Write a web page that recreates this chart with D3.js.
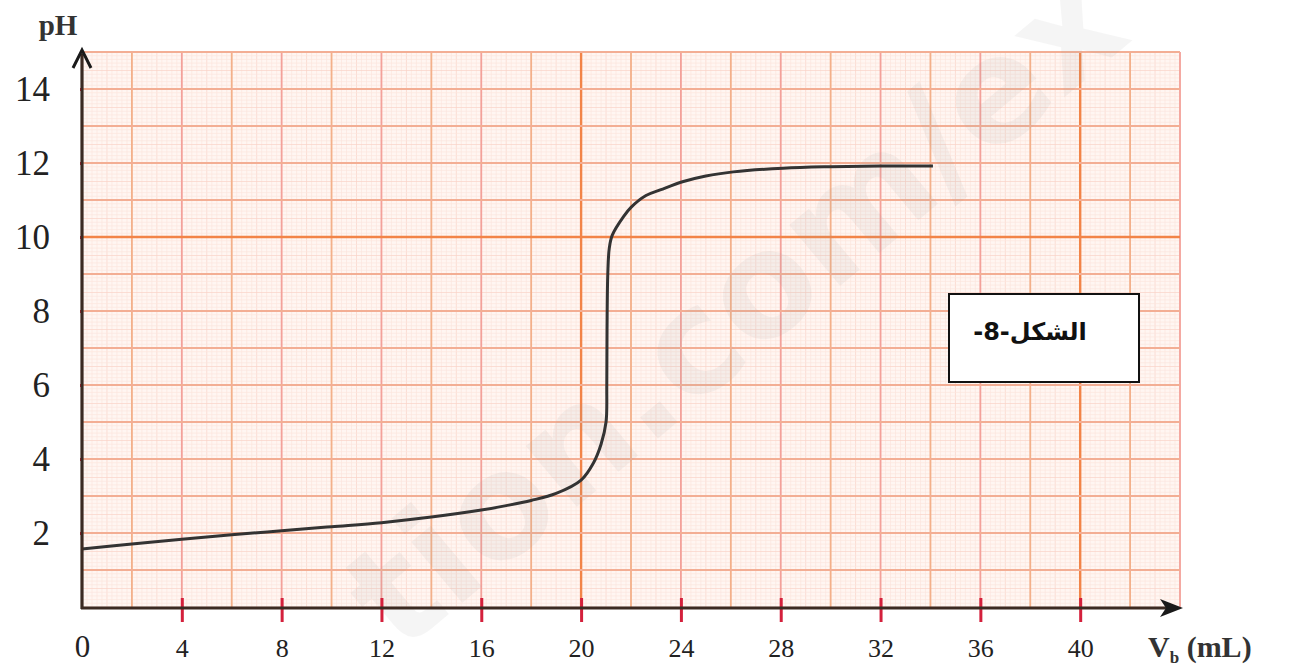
<!DOCTYPE html>
<html>
<head>
<meta charset="utf-8">
<script src="https://cdn.jsdelivr.net/npm/d3@7"></script>
<style>
  body { margin: 0; background: #fff; }
  svg { display: block; }
</style>
</head>
<body>
<div id="chart"></div>
<script>
// titration curve
const vb = [0, 2, 4, 6, 8, 10, 12, 14, 16, 17, 18, 19, 20, 20.5, 20.8, 21.0, 21.03, 21.04, 21.07, 21.13, 21.25, 21.7, 22.0, 22.6, 23.2, 24.1, 25, 26.1, 28.1, 30, 32, 34.1];
const ph = [1.57, 1.70, 1.83, 1.95, 2.06, 2.17, 2.28, 2.43, 2.62, 2.74, 2.88, 3.07, 3.43, 3.9, 4.4, 5.0, 6.0, 7.5, 9.0, 9.7, 10.05, 10.55, 10.8, 11.12, 11.28, 11.5, 11.65, 11.76, 11.86, 11.9, 11.92, 11.92];

const xTicks = [4, 8, 12, 16, 20, 24, 28, 32, 36, 40];
const yTicks = [2, 4, 6, 8, 10, 12, 14];
const figLabel = "الشكل-8-";
const watermark = "tion.com/ex";

const width = 1290, height = 668;
const x = d3.scaleLinear().domain([0, 44]).range([82, 1180]);
const y = d3.scaleLinear().domain([0, 15]).range([607, 52]);

const svg = d3.select("#chart").append("svg")
  .attr("width", width).attr("height", height);

// graph paper
svg.append("rect")
  .attr("x", x(0)).attr("y", y(15))
  .attr("width", x(44) - x(0)).attr("height", y(0) - y(15))
  .attr("fill", "#fff6f2");

const grid = svg.append("g");

// fine lines
grid.selectAll(".fv").data(d3.range(0, 44.01, 0.2)).enter().append("line")
  .attr("x1", d => x(d)).attr("x2", d => x(d))
  .attr("y1", y(0)).attr("y2", y(15))
  .attr("stroke", d => Math.abs(d - Math.round(d)) < 0.01 ? "#f9d3c7" : "#fce5de")
  .attr("stroke-width", 0.7);
grid.selectAll(".fh").data(d3.range(0, 15.01, 0.1)).enter().append("line")
  .attr("x1", x(0)).attr("x2", x(44))
  .attr("y1", d => y(d)).attr("y2", d => y(d))
  .attr("stroke", d => Math.abs(d * 2 - Math.round(d * 2)) < 0.01 ? "#f9d3c7" : "#fce5de")
  .attr("stroke-width", 0.7);

// major lines
grid.selectAll(".mv").data(d3.range(2, 44.01, 2)).enter().append("line")
  .attr("x1", d => x(d)).attr("x2", d => x(d))
  .attr("y1", y(0)).attr("y2", y(15))
  .attr("stroke", d => d % 20 === 0 ? "#f28448" : (d % 4 === 0 ? "#f3a19a" : "#f3b08a"))
  .attr("stroke-width", d => d % 20 === 0 ? 2.4 : 1.8);
grid.selectAll(".mh").data(d3.range(1, 15.01, 1)).enter().append("line")
  .attr("x1", x(0)).attr("x2", x(44))
  .attr("y1", d => y(d)).attr("y2", d => y(d))
  .attr("stroke", d => d === 10 ? "#f28448" : "#f3ae94")
  .attr("stroke-width", d => d === 10 ? 2.4 : 1.8);

// watermark
svg.append("text")
  .attr("transform", "translate(400,655) rotate(-40)")
  .attr("font-family", "DejaVu Sans, sans-serif")
  .attr("font-weight", "bold")
  .attr("font-size", 145)
  .attr("fill", "#999")
  .attr("fill-opacity", 0.1)
  .text(watermark);

// curve
const line = d3.line()
  .x((d, i) => x(vb[i]))
  .y(d => y(d))
  .curve(d3.curveCatmullRom.alpha(0.5));

svg.append("path")
  .datum(ph)
  .attr("d", line)
  .attr("fill", "none")
  .attr("stroke", "#333")
  .attr("stroke-width", 3);

// axes
const yAxis = svg.append("g")
  .attr("transform", `translate(${x(0)},0)`)
  .call(d3.axisLeft(y).tickValues(yTicks).tickSize(20).tickPadding(12).tickFormat(d3.format("d")));
yAxis.select(".domain").remove();
yAxis.selectAll(".tick line").attr("stroke", "#d4203c").attr("stroke-width", 3).attr("x2", -2);
yAxis.selectAll(".tick text")
  .attr("font-family", "Liberation Serif, serif")
  .attr("font-size", 35)
  .attr("fill", "#222");

const xAxis = svg.append("g")
  .attr("transform", `translate(0,${y(0) + 1})`)
  .call(d3.axisBottom(x).tickValues([0].concat(xTicks)).tickSize(14).tickFormat(d3.format("d")));
xAxis.select(".domain").remove();
xAxis.selectAll(".tick line")
  .attr("y1", -10)
  .attr("stroke", "#d4203c").attr("stroke-width", 3)
  .attr("display", d => d === 0 ? "none" : null);
xAxis.selectAll(".tick text")
  .attr("y", 49).attr("dy", null)
  .attr("font-family", "Liberation Serif, serif")
  .attr("font-size", d => d === 0 ? 31 : 26)
  .attr("fill", "#222");

// axis lines with arrows
const axisColor = "#3b2a22";
svg.append("line")
  .attr("x1", x(0)).attr("x2", x(0))
  .attr("y1", y(0) + 2).attr("y2", 54)
  .attr("stroke", axisColor).attr("stroke-width", 3.2);
svg.append("path")
  .attr("d", `M${x(0) - 9},${68} L${x(0)},${50} L${x(0) + 9},${68}`)
  .attr("fill", "none").attr("stroke", "#1a1a1a").attr("stroke-width", 3);
svg.append("line")
  .attr("x1", x(0) - 1).attr("x2", 1178)
  .attr("y1", y(0) + 1).attr("y2", y(0) + 1)
  .attr("stroke", axisColor).attr("stroke-width", 3.2);
svg.append("path")
  .attr("d", `M1160,${y(0) - 8} L1183,${y(0) + 1} L1160,${y(0) + 10} L1166,${y(0) + 1} Z`)
  .attr("fill", "#1a1a1a");

// axis titles
svg.append("text")
  .attr("x", 58).attr("y", 35)
  .attr("text-anchor", "middle")
  .attr("font-family", "Liberation Serif, serif")
  .attr("font-weight", "bold")
  .attr("font-size", 29)
  .attr("fill", "#333")
  .text("pH");

const xt = svg.append("text")
  .attr("x", 1148).attr("y", 657)
  .attr("font-family", "Liberation Serif, serif")
  .attr("font-weight", "bold")
  .attr("font-size", 30)
  .attr("fill", "#333");
xt.append("tspan").text("V");
xt.append("tspan").attr("font-size", 17).attr("dy", 6).text("b");
xt.append("tspan").attr("dy", -6).text(" (mL)");

// figure label box
svg.append("rect")
  .attr("x", 949).attr("y", 294)
  .attr("width", 190).attr("height", 88)
  .attr("fill", "#fff")
  .attr("stroke", "#111").attr("stroke-width", 2);
svg.append("text")
  .attr("x", 1030).attr("y", 340)
  .attr("text-anchor", "middle")
  .attr("direction", "rtl")
  .attr("font-family", "DejaVu Sans, sans-serif")
  .attr("font-weight", "bold")
  .attr("font-size", 24)
  .attr("fill", "#111")
  .text(figLabel);
</script>
</body>
</html>
